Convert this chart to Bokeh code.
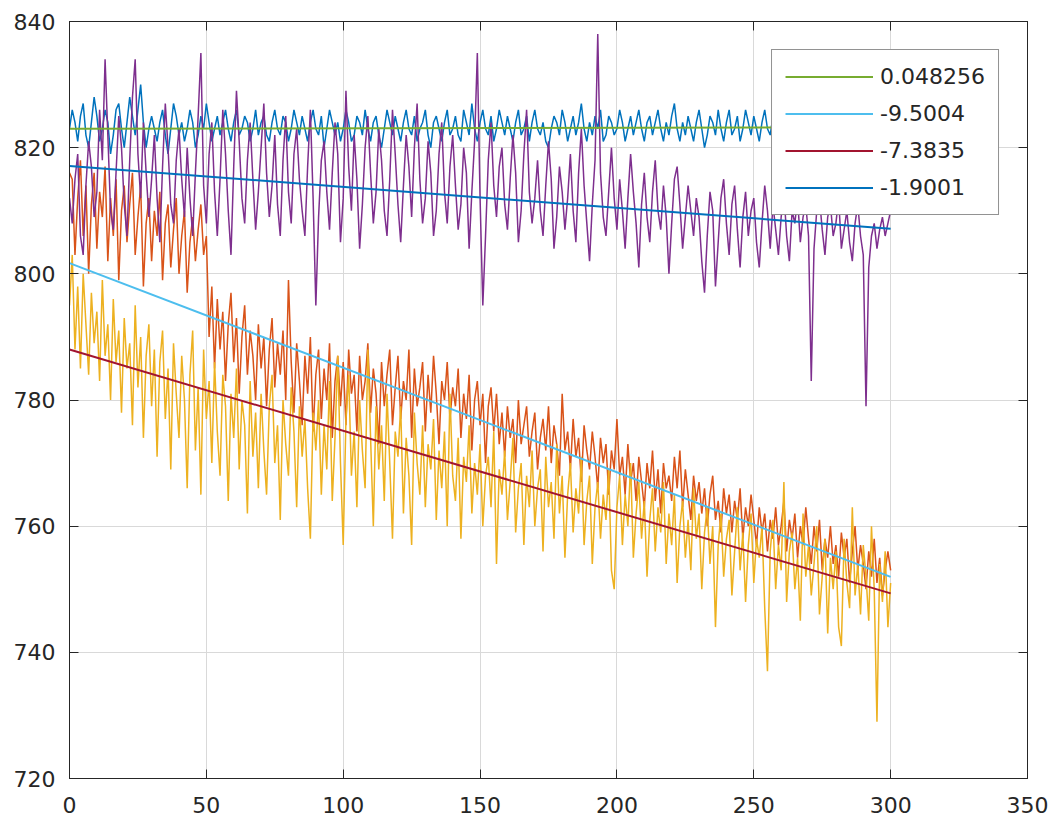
import math
from bokeh.plotting import figure
from bokeh.models import (LinearAxis, Range1d, FixedTicker, Legend, LegendItem,
                          CustomJSTickFormatter)
from bokeh.embed import file_html
from bokeh.resources import INLINE

# ---------------- data ----------------
x_values = list(range(0, 301))

series_blue = [
    823, 826, 824, 821, 825, 827, 822, 820, 824, 828,
    825, 821, 823, 826, 824, 819, 822, 826, 827, 823,
    820, 824, 828, 825, 822, 826, 830, 824, 820, 823,
    825, 823, 821, 824, 826, 822, 819, 823, 827, 825,
    822, 824, 821, 823, 826, 824, 820, 822, 825, 823,
    827, 824, 821, 823, 825, 822, 824, 826, 823, 821,
    824, 826, 822, 823, 825, 824, 821, 823, 826, 822,
    824, 825, 822, 821, 824, 826, 823, 822, 825, 824,
    821, 823, 826, 824, 822, 825, 823, 821, 824, 826,
    823, 822, 825, 820, 823, 826, 824, 822, 824, 821,
    823, 826, 824, 821, 822, 825, 824, 822, 826, 823,
    821, 824, 825, 822, 820, 823, 826, 824, 822, 825,
    823, 821, 824, 826, 823, 822, 825, 821, 823, 824,
    826, 822, 820, 824, 825, 823, 821, 824, 826, 822,
    823, 825, 822, 821, 826, 824, 822, 827, 823, 821,
    824, 826, 823, 822, 825, 821, 823, 826, 824, 822,
    825, 823, 821, 824, 826, 822, 823, 825, 821, 824,
    826, 823, 822, 824, 821, 820, 823, 825, 824, 822,
    826, 824, 821, 823, 825, 822, 824, 827, 823, 821,
    824, 822, 825, 823, 826, 821, 822, 825, 824, 822,
    823, 826, 824, 821, 823, 825, 822, 824, 826, 823,
    821, 824, 825, 822, 824, 826, 823, 821, 824, 822,
    825, 827, 823, 821, 824, 822, 825, 823, 821, 824,
    826, 823, 820, 822, 825, 824, 822, 826, 823, 821,
    824, 826, 822, 823, 825, 821, 823, 826, 824, 822,
    825, 823, 821, 824, 826, 823, 822, 825, 824, 821,
    823, 826, 824, 822, 825, 823, 821, 824, 826, 823,
    822, 825, 824, 821, 823, 826, 824, 822, 825, 823,
    821, 824, 826, 823, 822, 825, 823, 821, 824, 826,
    823, 822, 825, 824, 821, 823, 826, 824, 822, 825,
    823,
]

series_orange = [
    816, 815, 803, 812, 818, 806, 814, 800, 811, 816,
    804, 813, 809, 817, 802, 812, 806, 815, 799, 810,
    814, 805, 811, 816, 803, 809, 814, 798, 808, 812,
    802, 810, 806, 813, 799, 808, 811, 801, 807, 812,
    800, 806, 810, 797, 805, 809, 802, 807, 811, 803,
    806, 790, 798, 785, 796, 788, 794, 783, 792, 797,
    786, 793, 781, 790, 795, 784, 791, 787, 780, 792,
    785, 790, 779, 788, 793, 782, 789, 784, 791, 780,
    799, 786, 778, 789, 783, 776, 787, 781, 790, 775,
    784, 788, 777, 785, 780, 789, 774, 783, 787, 779,
    786, 776, 788, 781, 784, 775, 787, 780, 783, 789,
    778, 785, 781, 773, 786, 779, 784, 788, 776, 782,
    787, 777, 783, 780, 788, 774, 785, 779, 782, 786,
    775, 784, 778, 787, 781, 773, 783, 780, 786, 777,
    782, 779, 785, 774, 781, 777, 784, 772, 780, 783,
    776, 781, 770, 779, 782, 775, 781, 773, 778, 771,
    779, 774, 777, 770, 780, 773, 776, 779, 771, 775,
    778, 769, 774, 777, 772, 779, 770, 776, 773, 768,
    781, 772, 775, 769, 777, 771, 774, 767, 776, 772,
    769, 775, 771, 766, 774, 770, 773, 765, 772, 769,
    777, 768, 771, 765, 773, 767, 770, 764, 771, 767,
    763, 770, 766, 772, 764, 769, 762, 770, 766, 768,
    764, 771, 766, 772, 763, 769, 765, 761, 768, 764,
    767, 762, 766, 760, 765, 768, 761, 764, 759, 766,
    762, 765, 759, 764, 761, 766, 758, 763, 760, 765,
    761, 757, 763, 759, 762, 756, 761, 758, 763, 757,
    760, 764, 756, 761, 758, 762, 755, 760, 757, 763,
    758, 754, 760, 756, 761, 753, 758, 755, 760, 754,
    757, 752, 759, 755, 758, 751, 756, 760, 753, 757,
    754, 750, 756, 752, 758, 751, 755, 749, 753, 756,
    753,
]

series_yellow = [
    795, 803, 788, 798, 785, 800, 792, 784, 797, 789,
    794, 783, 799, 787, 792, 780, 796, 786, 791, 778,
    793, 785, 789, 776, 795, 782, 790, 774, 787, 792,
    779, 788, 771, 786, 791, 777, 785, 769, 789, 781,
    774, 787, 780, 766, 784, 791, 772, 782, 765, 788,
    777, 783, 770, 786, 775, 768, 784, 779, 764, 781,
    774, 785, 769, 780, 776, 762, 783, 771, 778, 766,
    781, 772, 765, 779, 784, 770, 776, 761, 780, 773,
    768, 782, 775, 763, 779, 771, 777, 766, 758, 778,
    772, 780, 765, 776, 769, 783, 764, 774, 787, 770,
    757, 777, 784, 768, 775, 763, 780, 772, 766, 788,
    774, 760, 779, 769, 776, 764, 781, 770, 758, 775,
    771, 779, 762, 774, 768, 757, 778, 770, 765, 776,
    763, 773, 769, 777, 761, 772, 766, 775, 760, 781,
    768, 764, 774, 758, 771, 767, 776, 762, 770, 765,
    773, 760, 768, 771, 763, 775, 754, 769, 765, 772,
    761, 767, 774, 759, 766, 770, 757, 768, 763, 772,
    760, 766, 769, 756, 771, 763, 767, 758, 773, 762,
    768, 755, 765, 770, 759, 766, 762, 771, 757, 764,
    768, 754, 763, 767, 758, 765, 761, 769, 753, 750,
    763, 768, 757, 765, 760, 770, 755, 762, 767, 758,
    764, 752, 761, 766, 756, 763, 759, 767, 754, 762,
    757, 765, 751, 760, 764, 755, 761, 753, 766, 758,
    762, 750, 759, 763, 754, 760, 744, 757, 762, 752,
    758, 761, 749, 756, 763, 753, 759, 748, 757, 762,
    751, 758, 755, 760, 747, 737, 756, 761, 750, 757,
    753, 767, 748, 756, 759, 750, 755, 745, 762, 752,
    757, 749, 754, 760, 746, 752, 758, 743, 755, 750,
    756, 744, 741, 758, 751, 747, 763, 749, 754, 746,
    757, 752, 745, 760, 750, 729, 754, 748, 756, 744,
    751,
]

series_purple = [
    812, 808, 815, 819, 806, 803, 814, 821, 817, 809,
    813, 826, 818, 834, 822, 810, 807, 816, 825, 820,
    811, 806, 818, 828, 834, 819, 812, 824, 816, 809,
    815, 822, 812, 805, 817, 827, 820, 811, 808, 818,
    823, 815, 809, 820, 812, 806, 816, 825, 835, 814,
    808, 819, 824, 813, 806, 815, 826, 819, 810, 803,
    817, 829, 821, 812, 808, 818, 824, 815, 807, 813,
    820, 827, 816, 809, 814, 822, 811, 806, 818, 825,
    813, 808, 819, 823, 815, 810, 806, 817, 826, 812,
    795, 809, 818, 821, 813, 807, 816, 824, 819, 805,
    812, 829, 817, 810, 822, 815, 804, 811, 820, 825,
    816, 808, 813, 823, 818, 810, 806, 815, 826, 819,
    811, 805, 814, 822, 817, 809, 820, 827, 815, 808,
    812, 821, 816, 806, 810, 819, 824, 813, 808, 817,
    822, 814, 807, 811, 820, 816, 804, 813, 821, 835,
    812, 795, 806, 818, 824, 814, 809, 817, 820, 811,
    807, 815, 822, 816, 805, 810, 819, 826, 813, 808,
    812, 818, 810, 806, 814, 821, 815, 804, 809, 817,
    813, 807, 812, 819, 810, 805, 816, 823, 814, 808,
    802, 811, 818, 838, 816, 809, 806, 813, 820, 812,
    807, 815, 810, 804, 812, 819, 813, 808, 801, 811,
    816, 809, 805, 813, 818, 810, 807, 814, 809, 800,
    808, 815, 817, 811, 804, 809, 814, 810, 806, 812,
    809, 802, 797, 806, 813, 810, 798, 805, 812, 815,
    808, 803, 811, 814, 807, 801, 809, 813, 806, 810,
    812, 805, 801, 808, 814, 810, 804, 811, 807, 803,
    809, 813, 806, 802, 810, 808, 812, 805, 809, 811,
    806, 783, 804, 810, 812, 807, 803, 809, 811, 806,
    808, 812, 804, 807, 810, 805, 802, 808, 811, 806,
    803, 779, 801, 806, 808, 804, 807, 809, 806, 808,
    810,
]

# linear fits: legend slope values and intercepts
fit_labels = ["0.048256", "-9.5004", "-7.3835", "-1.9001"]
fit_slopes = [0.048256, -9.5004, -7.3835, -1.9001]
fit_intercepts = [823.0, 801.7, 788.0, 817.1]
slope_unit = 180.0 / math.pi   # slope is given per this many x units
fit_x = [0, 300]

x_ticks = [0, 50, 100, 150, 200, 250, 300, 350]
y_ticks = [720, 740, 760, 780, 800, 820, 840]

data_colors = ["#0072BD", "#D95319", "#EDB120", "#7E2F8E"]
fit_colors = ["#77AC30", "#4DBEEE", "#A2142F", "#0072BD"]

# ---------------- figure ----------------
FONT = "DejaVu Sans"
TXT = "#262626"

p = figure(width=1050, height=823, output_backend="svg", toolbar_location=None,
           x_range=Range1d(0, 350), y_range=Range1d(720, 840),
           min_border_left=69, min_border_right=23, min_border_top=21,
           min_border_bottom=45)
p.background_fill_color = "white"
p.border_fill_color = "white"
p.outline_line_color = TXT
p.outline_line_width = 1

for ax in (p.xaxis[0], p.yaxis[0]):
    ax.major_tick_in = 9
    ax.major_tick_out = 0
    ax.minor_tick_in = 0
    ax.minor_tick_out = 0
    ax.axis_line_color = TXT
    ax.major_tick_line_color = TXT
    ax.major_label_text_font = FONT
    ax.major_label_text_font_size = "22px"
    ax.major_label_text_color = TXT
p.xaxis[0].ticker = FixedTicker(ticks=x_ticks)
p.yaxis[0].ticker = FixedTicker(ticks=y_ticks)
p.xaxis[0].major_label_standoff = 18
p.yaxis[0].major_label_standoff = 14

blank = CustomJSTickFormatter(code="return ''")
ax_top = LinearAxis(ticker=FixedTicker(ticks=x_ticks), formatter=blank,
                    major_tick_in=9, major_tick_out=0, minor_tick_in=0,
                    minor_tick_out=0, axis_line_color=TXT,
                    major_tick_line_color=TXT, major_label_standoff=0)
ax_right = LinearAxis(ticker=FixedTicker(ticks=y_ticks), formatter=blank,
                      major_tick_in=9, major_tick_out=0, minor_tick_in=0,
                      minor_tick_out=0, axis_line_color=TXT,
                      major_tick_line_color=TXT, major_label_standoff=0)
p.add_layout(ax_top, "above")
p.add_layout(ax_right, "right")

p.xgrid.ticker = FixedTicker(ticks=x_ticks)
p.ygrid.ticker = FixedTicker(ticks=y_ticks)
for g in (p.xgrid[0], p.ygrid[0]):
    g.grid_line_color = "#d9d9d9"
    g.grid_line_width = 1

all_series = [series_blue, series_orange, series_yellow, series_purple]
for ys, c in zip(all_series, data_colors):
    p.line(x_values, ys, line_color=c, line_width=1.5)

items = []
for lab, sl, b0, c in zip(fit_labels, fit_slopes, fit_intercepts, fit_colors):
    fy = [b0 + sl * xx / slope_unit for xx in fit_x]
    r = p.line(fit_x, fy, line_color=c, line_width=2)
    items.append(LegendItem(label=lab, renderers=[r]))

legend = Legend(items=items, location="top_right", margin=28, padding=13,
                spacing=10, glyph_width=88, glyph_height=27, label_height=27,
                label_standoff=7, label_text_font=FONT,
                label_text_font_size="22px", label_text_color=TXT,
                border_line_color=TXT, border_line_width=1,
                background_fill_color="white", background_fill_alpha=1.0)
p.add_layout(legend, "center")

open("out.html", "w").write(file_html(p, INLINE))
